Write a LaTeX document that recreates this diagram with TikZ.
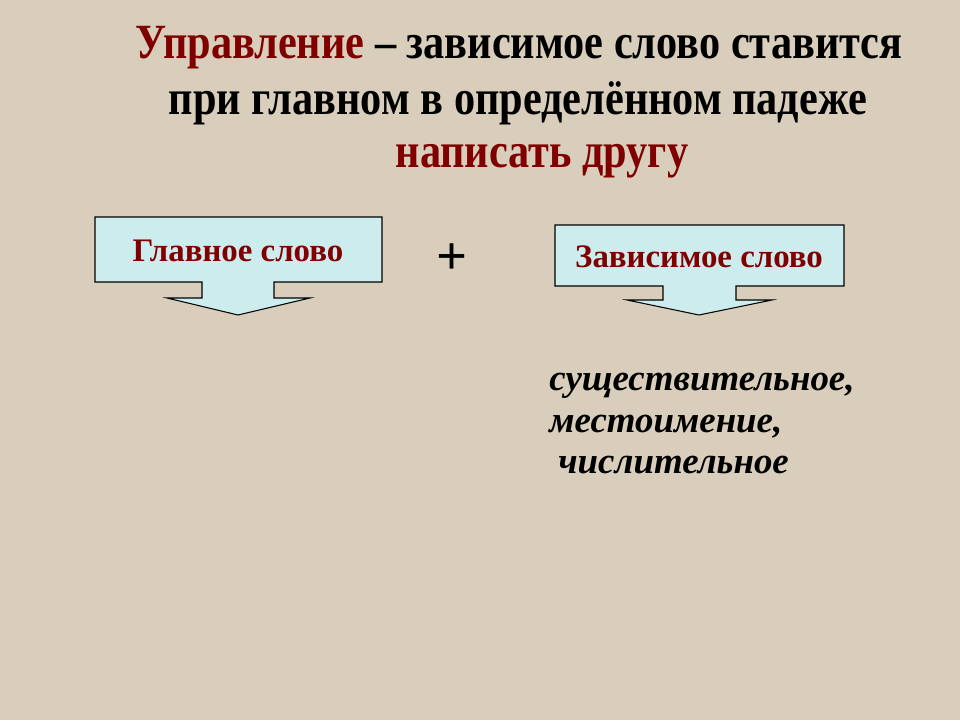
\documentclass[tikz,border=0pt]{standalone}
\usepackage{fontspec}
\setmainfont{Liberation Serif}
\newfontfamily\headfont[FakeStretch=0.86]{Liberation Serif}
\usetikzlibrary{calc}

\definecolor{canvas}{RGB}{216,206,187}
\definecolor{boxfill}{RGB}{204,236,238}
\definecolor{wine}{RGB}{128,0,0}

\begin{document}
\begin{tikzpicture}[x=0.02cm,y=-0.02cm,
	head/.style={font=\headfont\bfseries\fontsize{28}{32}\selectfont, anchor=base, inner sep=0pt},
	callout/.style={draw=black, fill=boxfill, line width=0.6pt, line join=miter},
	boxtext/.style={font=\bfseries\fontsize{18.7}{22}\selectfont, text=wine},
	kind/.style={font=\bfseries\itshape\fontsize{21}{25}\selectfont, anchor=base west, inner sep=0pt}]

	% background
	\fill[canvas] (0,0) rectangle (960,720);
	\useasboundingbox (0,0) rectangle (960,720);

	% heading
	\node[head] (line1) at (519,58) {\textcolor{wine}{Управление} – зависимое слово ставится};
	\node[head] (line2) at (518,114) {при главном в определённом падеже};
	\node[head, text=wine] (line3) at (542,167) {написать другу};

	% left callout
	\draw[callout] (95,217) -- (382,217) -- (382,282) -- (274,282) -- (274,298)
		-- (310,298) -- (238,315) -- (167,298) -- (202,298) -- (202,282)
		-- (95,282) -- cycle;
	\node[boxtext] (main) at (238,251) {Главное слово};

	% right callout
	\draw[callout] (555,225) -- (844,225) -- (844,286) -- (736,286) -- (736,300)
		-- (772,300) -- (699,315) -- (627,300) -- (663,300) -- (663,286)
		-- (555,286) -- cycle;
	\node[boxtext] (dep) at (699,257) {Зависимое слово};

	% plus sign
	\node[font=\bfseries\fontsize{31}{31}\selectfont] (plus) at (452,259) {+};

	% parts of speech
	\node[kind] (noun) at (549,390) {существительное,};
	\node[kind] (pron) at (549,432) {местоимение,};
	\node[kind] (num)  at (558,473) {числительное};

\end{tikzpicture}
\end{document}
